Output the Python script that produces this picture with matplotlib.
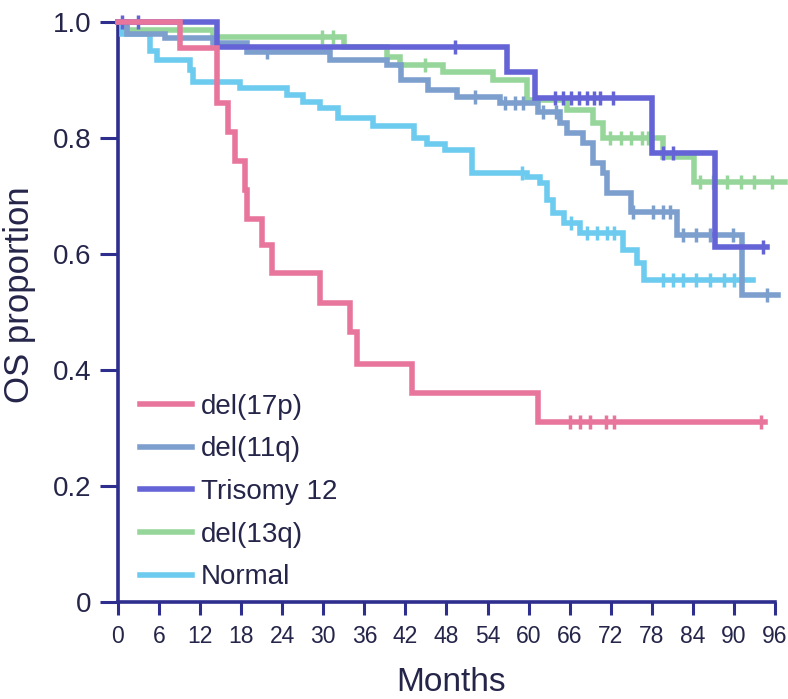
import matplotlib
matplotlib.use("Agg")
import matplotlib.pyplot as plt
import numpy as np

# Kaplan-Meier steps (months, OS proportion)
del17p_t = [0, 9.1, 14.5, 16.1, 17.1, 18.6, 18.9, 21.1, 22.5, 29.5, 33.9, 34.9, 43.0, 61.3, 94.6]
del17p_s = [1.0, 0.955, 0.86, 0.81, 0.76, 0.71, 0.66, 0.615, 0.567, 0.515, 0.466, 0.41, 0.36, 0.31, 0.31]
del17p_cens = [66.1, 67.5, 69.0, 71.3, 72.5, 93.9]

del11q_t = [0, 1.3, 6.9, 13.9, 18.9, 31.0, 39.3, 41.4, 45.3, 49.6, 55.8, 61.3, 64.6, 65.6, 68.0,
            69.4, 70.9, 71.5, 74.9, 81.7, 91.2, 96.5]
del11q_s = [1.0, 0.98, 0.972, 0.964, 0.948, 0.934, 0.926, 0.9, 0.883, 0.871, 0.86, 0.845, 0.826, 0.808, 0.791,
            0.757, 0.74, 0.705, 0.672, 0.633, 0.53, 0.53]
del11q_cens = [21.8, 52.2, 56.5, 58.0, 59.2, 62.1, 64.0, 75.3, 78.2, 79.7, 80.7, 82.6, 84.5, 86.5, 89.9, 94.9]

tri12_t = [0, 14.5, 56.9, 61.0, 78.1, 87.3, 94.9]
tri12_s = [1.0, 0.957, 0.914, 0.869, 0.774, 0.612, 0.612]
tri12_cens = [0.6, 2.9, 49.3, 63.9, 65.0, 66.2, 67.3, 68.5, 69.6, 70.5, 72.4, 79.7, 81.1, 94.2]

del13q_t = [0, 1.3, 13.9, 33.0, 39.3, 41.2, 47.5, 54.8, 59.8, 65.6, 69.4, 70.9, 79.7, 84.1, 97.5]
del13q_s = [1.0, 0.986, 0.974, 0.957, 0.94, 0.926, 0.914, 0.9, 0.866, 0.848, 0.826, 0.80, 0.767, 0.724, 0.724]
del13q_cens = [29.8, 31.4, 44.9, 71.9, 73.5, 75.0, 76.5, 77.5, 85.1, 87.0, 89.0, 91.0, 93.0, 95.5]

normal_t = [0, 0.6, 4.7, 5.7, 10.5, 11.0, 17.8, 24.7, 27.0, 29.5, 32.2, 37.3, 43.3, 45.2, 47.8, 51.8,
            59.8, 61.7, 62.7, 63.6, 65.1, 67.5, 73.8, 75.9, 76.8, 92.8]
normal_s = [1.0, 0.98, 0.95, 0.934, 0.917, 0.897, 0.886, 0.874, 0.862, 0.851, 0.834, 0.82, 0.80, 0.79, 0.78, 0.74,
            0.733, 0.722, 0.693, 0.67, 0.653, 0.636, 0.607, 0.584, 0.555, 0.555]
normal_cens = [59.0, 66.2, 68.5, 70.0, 71.5, 72.5, 79.7, 81.1, 82.5, 84.5, 86.5, 88.5, 90.0]

labels = ['del(17p)', 'del(11q)', 'Trisomy 12', 'del(13q)', 'Normal']
colors = ['#e8769c', '#7c9fcd', '#6464d6', '#96d69a', '#6ccbef']
x_ticks = list(range(0, 97, 6))
y_ticks = [0, 0.2, 0.4, 0.6, 0.8, 1.0]
y_ticklabels = ['0', '0.2', '0.4', '0.6', '0.8', '1.0']

axis_col = '#2e2e8e'
text_col = '#25254a'
plt.rcParams['font.family'] = ['Liberation Sans', 'DejaVu Sans']

fig = plt.figure(figsize=(7.88, 6.99), dpi=100)
ax = fig.add_axes([0.1497, 0.1388, 0.8338, 0.8297])

groups = {
    'del(17p)': (del17p_t, del17p_s, del17p_cens),
    'del(11q)': (del11q_t, del11q_s, del11q_cens),
    'Trisomy 12': (tri12_t, tri12_s, tri12_cens),
    'del(13q)': (del13q_t, del13q_s, del13q_cens),
    'Normal': (normal_t, normal_s, normal_cens),
}
# draw back-to-front so pink sits on top
draw_order = ['Normal', 'del(13q)', 'del(11q)', 'Trisomy 12', 'del(17p)']
handles = {}
for z, name in enumerate(draw_order):
    t, s, cens = groups[name]
    col = colors[labels.index(name)]
    ln, = ax.step(t, s, where='post', color=col, lw=4, clip_on=False, zorder=3 + z,
                  solid_joinstyle='miter')
    t_arr = np.array(t)
    idx = np.searchsorted(t_arr, cens, side='right') - 1
    cy = np.array(s)[idx]
    ax.plot(cens, cy, ls='none', marker='|', ms=10, mew=2.5, color=col, clip_on=False, zorder=3 + z)
    handles[name] = ln

ax.set_xlim(0, 96)
ax.set_ylim(0, 1.0)
ax.set_xticks(x_ticks)
ax.set_yticks(y_ticks)
ax.set_yticklabels(y_ticklabels)

for side in ['top', 'right']:
    ax.spines[side].set_visible(False)
for side in ['left', 'bottom']:
    ax.spines[side].set_color(axis_col)
    ax.spines[side].set_linewidth(2.6)

ax.tick_params(axis='y', direction='out', length=13, width=2.2, color=axis_col,
               labelsize=20, labelcolor=text_col, pad=6)
ax.tick_params(axis='x', direction='out', length=9.5, width=2.2, color=axis_col,
               labelsize=16.5, labelcolor=text_col, pad=7)

ax.set_ylabel('OS proportion', fontsize=25, color=text_col)
ax.yaxis.set_label_coords(-0.125, 0.53)
ax.set_xlabel('Months', fontsize=24, color=text_col)
ax.xaxis.set_label_coords(0.507, -0.112)

leg = ax.legend([handles[n] for n in labels], labels, loc='lower left',
                bbox_to_anchor=(0.033, 0.02), frameon=False, fontsize=20,
                handlelength=1.9, handletextpad=0.3, labelspacing=0.6,
                borderaxespad=0, borderpad=0)
for txt in leg.get_texts():
    txt.set_color(text_col)
for h in leg.get_lines():
    h.set_linewidth(4)

fig.savefig('out.png', dpi=100)
